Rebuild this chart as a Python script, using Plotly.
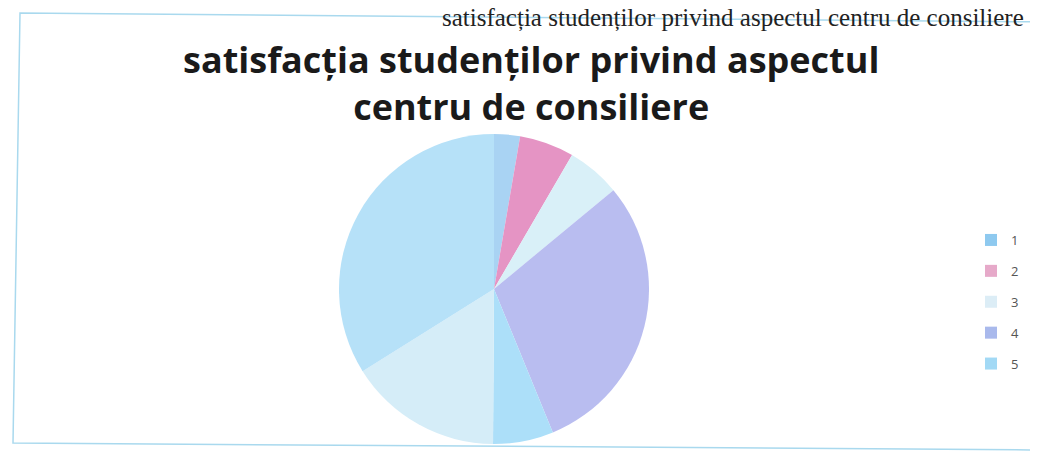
import plotly.graph_objects as go

# ---- data ----
categories = ["1", "2", "3", "4", "5", "6", "7"]
values = [2.7, 5.7, 5.6, 29.8, 6.3, 16.0, 33.9]
legend_categories = ["1", "2", "3", "4", "5"]

title_text = "satisfacția studenților privind aspectul<br>centru de consiliere"
header_text = "satisfacția studenților privind aspectul centru de consiliere"

slice_colors = ["#a9d3f3", "#e594c4", "#d9f0f8", "#b9bdf0", "#acdff9", "#d5edf8", "#b6e1f8"]
legend_colors = ["#8ec9ef", "#e6a9c9", "#dcedf6", "#a9b9ec", "#a2d9f5"]

# figure size (page body has an 8px default margin)
W, H = 1030, 464
OFF = 8


def px(X):
    return (X - OFF) / W


def py(Y):
    return 1 - (Y - OFF) / H


fig = go.Figure()

cx, cy, r = 494, 289, 155
fig.add_trace(go.Pie(
    labels=categories,
    values=values,
    sort=False,
    direction="clockwise",
    rotation=0,
    marker=dict(colors=slice_colors, line=dict(width=0)),
    textinfo="none",
    hoverinfo="label+value",
    showlegend=False,
    domain=dict(x=[px(cx - r), px(cx + r)], y=[py(cy + r), py(cy - r)]),
))

for cat, col in zip(legend_categories, legend_colors):
    fig.add_trace(go.Scatter(
        x=[None], y=[None], mode="markers", name=cat, legendgroup=cat,
        marker=dict(symbol="square", size=8, color=col),
        showlegend=True, hoverinfo="skip",
    ))

# chart area border (slightly tilted like the scan)
fig.add_shape(
    type="path", xref="paper", yref="paper",
    path=(f"M {px(1045)} {py(22)} L {px(20)} {py(13)} "
          f"L {px(13)} {py(443)} L {px(1045)} {py(450)}"),
    line=dict(color="#a9d9ee", width=1.5),
)

fig.add_annotation(
    text=title_text, xref="paper", yref="paper",
    x=px(531), y=py(83), xanchor="center", yanchor="middle",
    showarrow=False, align="center",
    font=dict(family="Open Sans", size=36, color="#1a1a1a", weight="bold"),
)

fig.add_annotation(
    text=header_text, xref="paper", yref="paper",
    x=px(1026), y=py(18), xanchor="right", yanchor="middle",
    showarrow=False,
    font=dict(family="Liberation Serif", size=25, color="#222222"),
)

fig.update_layout(
    width=W, height=H,
    margin=dict(l=0, r=0, t=0, b=0),
    paper_bgcolor="white", plot_bgcolor="white",
    xaxis=dict(visible=False), yaxis=dict(visible=False),
    showlegend=True,
    legend=dict(
        x=px(971), y=py(225), xanchor="left", yanchor="top",
        font=dict(family="Open Sans", size=13, color="#555555"),
        tracegroupgap=11, itemsizing="constant", itemwidth=30,
        bgcolor="rgba(0,0,0,0)",
    ),
)

fig.write_html("out.html")
